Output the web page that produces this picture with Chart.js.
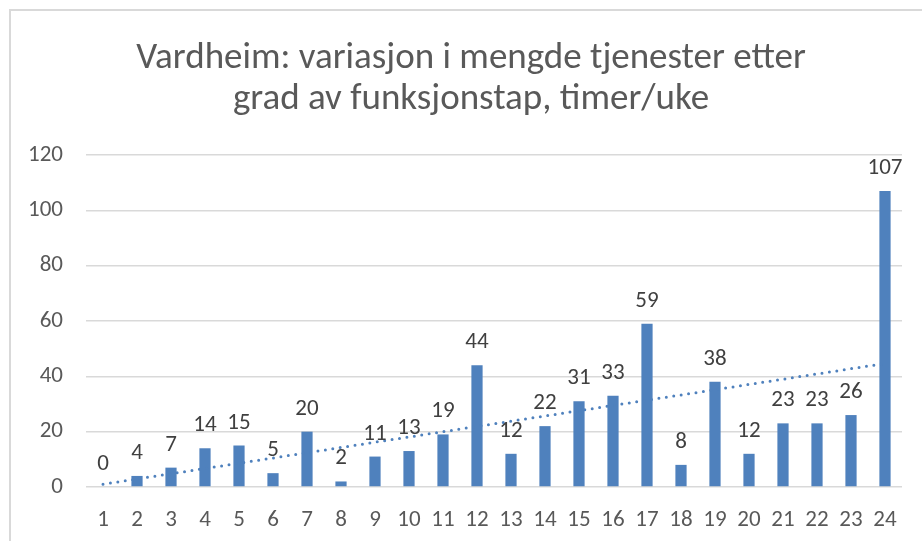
<!DOCTYPE html>
<html>
<head>
<meta charset="utf-8">
<script src="https://cdn.jsdelivr.net/npm/chart.js@4.4.0/dist/chart.umd.min.js"></script>
<style>
  html, body { margin: 0; padding: 0; background: #fff; overflow: hidden; }
  #wrap { position: relative; width: 922px; height: 541px; }
  #frame { position: absolute; left: 9px; top: 9px; width: 1000px; height: 600px;
           border: 2px solid #d9d9d9; box-sizing: border-box; pointer-events: none; }
</style>
</head>
<body>
<div id="wrap">
  <canvas id="myChart" width="922" height="541"></canvas>
  <div id="frame"></div>
</div>
<script>
// data
const categories = ['1','2','3','4','5','6','7','8','9','10','11','12','13','14','15','16','17','18','19','20','21','22','23','24']
const hours = [0, 4, 7, 14, 15, 5, 20, 2, 11, 13, 19, 44, 12, 22, 31, 33, 59, 8, 38, 12, 23, 23, 26, 107]
const titleLines = ['Vardheim: variasjon i mengde tjenester etter', 'grad av funksjonstap, timer/uke']

const fontFam = "Carlito, Lato, 'Open Sans', sans-serif"
const barColor = '#4f81bd'

// linear trendline (least squares) like Excel
const n = hours.length
let sx = 0, sy = 0, sxy = 0, sxx = 0
hours.forEach((v, i) => {
  const x = i + 1
  sx += x; sy += v; sxy += x * v; sxx += x * x
})
const slope = (n * sxy - sx * sy) / (n * sxx - sx * sx)
const icpt = (sy - slope * sx) / n
const trend = hours.map((v, i) => icpt + slope * (i + 1))

// value labels above bars
const valueLabels = {
  id: 'valueLabels',
  afterDatasetsDraw(chart) {
    const ctx = chart.ctx
    const meta = chart.getDatasetMeta(1)
    ctx.save()
    ctx.font = '23px ' + fontFam
    ctx.fillStyle = '#404040'
    ctx.textAlign = 'center'
    ctx.textBaseline = 'alphabetic'
    meta.data.forEach((bar, i) => {
      ctx.fillText(String(hours[i]), bar.x, bar.y - 17)
    })
    ctx.restore()
  }
}

// two-line title, centred a bit right of the canvas middle like the original
const chartTitle = {
  id: 'chartTitle',
  afterDraw(chart) {
    const ctx = chart.ctx
    ctx.save()
    ctx.font = '37px ' + fontFam
    ctx.fillStyle = '#595959'
    ctx.textAlign = 'center'
    ctx.textBaseline = 'alphabetic'
    ctx.fillText(titleLines[0], 471, 68)
    ctx.fillText(titleLines[1], 471, 109)
    ctx.restore()
  }
}

const data = {
  labels: categories,
  datasets: [
    {
      type: 'line',
      label: 'Trend',
      data: trend,
      borderColor: barColor,
      borderWidth: 3,
      borderDash: [0, 7.5],
      borderCapStyle: 'round',
      pointRadius: 0,
      fill: false,
      order: 0
    },
    {
      type: 'bar',
      label: 'Timer',
      data: hours,
      backgroundColor: barColor,
      barPercentage: 0.33,
      categoryPercentage: 1,
      order: 1
    }
  ]
}

const config = {
  type: 'bar',
  data,
  options: {
    responsive: false,
    animation: false,
    layout: { padding: { left: 0, right: 20, top: 155, bottom: 0 } },
    scales: {
      x: {
        grid: { display: false, drawTicks: false },
        border: { display: false },
        ticks: { color: '#595959', font: { size: 23, family: fontFam }, padding: 19 },
        afterFit: (s) => { s.height = 54 }
      },
      y: {
        min: 0,
        max: 120,
        grid: { color: '#d9d9d9', lineWidth: 1.5, drawTicks: false },
        border: { display: false },
        ticks: { stepSize: 20, color: '#595959', font: { size: 23, family: fontFam }, padding: 23 },
        afterFit: (s) => { s.width = 86 }
      }
    },
    plugins: {
      legend: { display: false },
      tooltip: { enabled: false },
      title: { display: false }
    }
  },
  plugins: [valueLabels, chartTitle]
}

const myChart = new Chart(document.getElementById('myChart'), config)
</script>
</body>
</html>
